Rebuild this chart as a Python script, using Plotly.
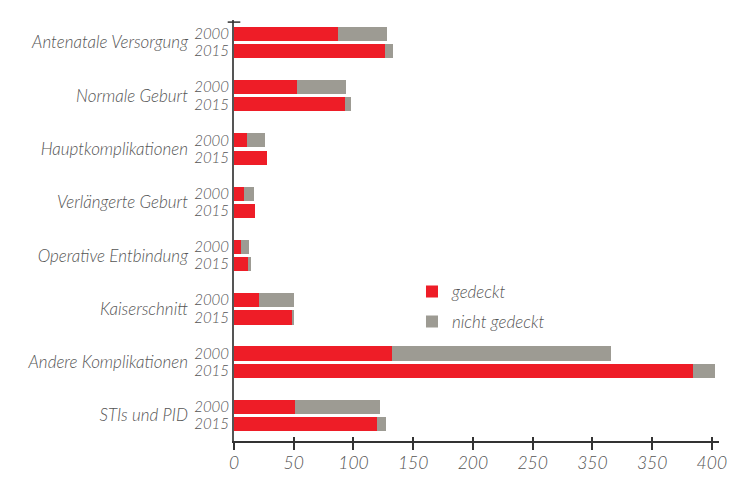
import plotly.graph_objects as go

categories = ["Antenatale Versorgung", "Normale Geburt", "Hauptkomplikationen",
              "Verlängerte Geburt", "Operative Entbindung", "Kaiserschnitt",
              "Andere Komplikationen", "STIs und PID"]
years = ["2000", "2015"]
covered_2000 = [87, 53, 11, 8, 6, 21, 132, 51]
uncovered_2000 = [41, 41, 15, 9, 6.5, 29, 184, 71]
covered_2015 = [126, 93, 27.5, 17.5, 12.5, 49, 384, 120]
uncovered_2015 = [7, 5, 0, 0, 1.5, 1.5, 19, 7.5]
x_tickvals = [0, 50, 100, 150, 200, 250, 300, 350, 400]
x_ticktext = ["0", "50", "100", "150", "200", "250", "350", "350", "400"]

RED = "#EE1D27"
GRAY = "#9D9B93"
TXT = "#555555"
FONT = "Lato"

off = 0.162
ypos, ylab, cov, unc = [], [], [], []
for i in range(len(categories)):
    ypos += [i - off, i + off]
    ylab += years
    cov += [covered_2000[i], covered_2015[i]]
    unc += [uncovered_2000[i], uncovered_2015[i]]

fig = go.Figure()
fig.add_trace(go.Bar(y=ypos, x=cov, orientation="h", name="gedeckt",
                     marker=dict(color=RED, line=dict(width=0)), width=0.265,
                     legendgroup="a"))
fig.add_trace(go.Bar(y=ypos, x=unc, orientation="h", name="nicht gedeckt",
                     marker=dict(color=GRAY, line=dict(width=0)), width=0.265,
                     legendgroup="b"))
# invisible trace to show overlay axes (category names, inner ticks)
fig.add_trace(go.Scatter(x=[0] * len(categories), y=list(range(len(categories))),
                         xaxis="x2", yaxis="y2", mode="markers",
                         marker=dict(opacity=0), showlegend=False, hoverinfo="skip"))

yrange = [7.48, -0.42]
fig.update_layout(
    width=741, height=483,
    margin=dict(l=234, r=22, t=20, b=42),
    paper_bgcolor="white", plot_bgcolor="white",
    barmode="stack", bargap=0,
    font=dict(family=FONT, color=TXT, size=15),
    xaxis=dict(range=[0, 406], tickvals=x_tickvals, ticktext=x_ticktext,
               showgrid=False, zeroline=False, showline=True, automargin=False,
               linecolor="#333333", linewidth=1.5,
               ticks="outside", ticklen=7, tickwidth=1.5, tickcolor="#333333",
               ticklabelstandoff=-2,
               tickfont=dict(family=FONT, size=17.5, color=TXT, style="italic", weight=300)),
    xaxis2=dict(overlaying="x", matches="x", range=[0, 406], tickvals=x_tickvals,
                showticklabels=False, showgrid=False, zeroline=False, showline=False,
                ticks="inside", ticklen=4, tickwidth=1.5, tickcolor="#333333",
                anchor="y", automargin=False),
    yaxis=dict(range=yrange, tickvals=ypos, ticktext=ylab, automargin=False,
               showgrid=False, zeroline=False, showline=True,
               linecolor="#555555", linewidth=2, ticks="",
               tickfont=dict(family=FONT, size=15, color=TXT, style="italic", weight=300)),
    yaxis2=dict(overlaying="y", matches="y", range=yrange, automargin=False,
                tickvals=list(range(len(categories))), ticktext=categories,
                showgrid=False, zeroline=False, showline=False, ticks="",
                ticklabelstandoff=45, anchor="x",
                tickfont=dict(family=FONT, size=17, color=TXT, style="italic", weight=300)),
    legend=dict(x=0.367, y=0.397, xanchor="left", yanchor="top",
                bgcolor="rgba(0,0,0,0)", tracegroupgap=5,
                font=dict(family=FONT, size=17, color=TXT, style="italic", weight=300)),
    shapes=[dict(type="line", xref="paper", yref="paper", x0=-0.013, x1=0.013,
                 y0=0.995, y1=0.995, line=dict(color="#333333", width=1.5))],
)

fig.write_html("out.html", post_script="document.body.style.margin='0';",
               config={"displayModeBar": False})
